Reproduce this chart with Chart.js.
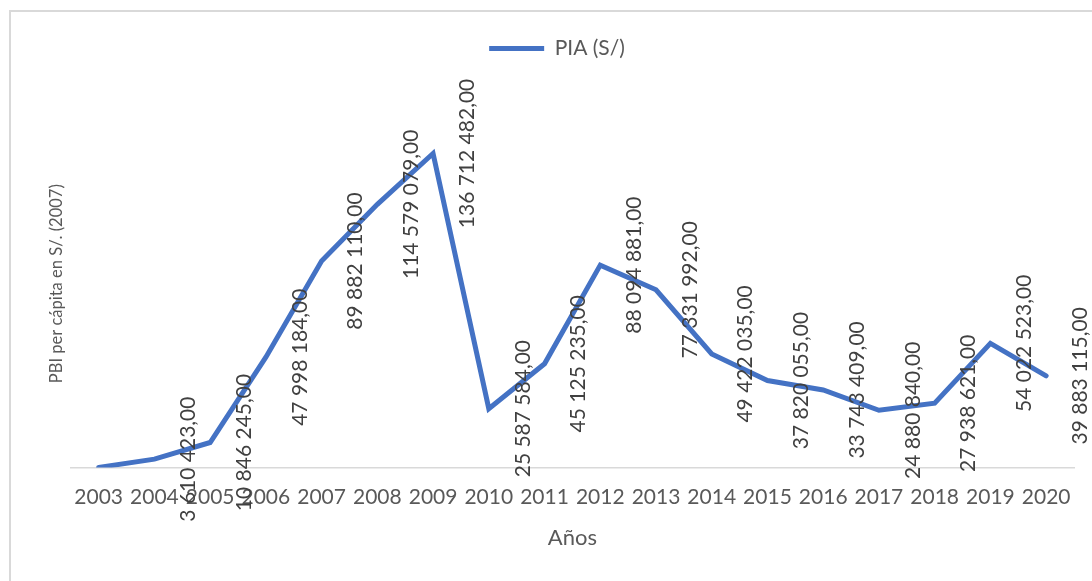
<!DOCTYPE html>
<html>
<head>
<meta charset="utf-8">
<script src="https://cdn.jsdelivr.net/npm/chart.js@4"></script>
<style>
  html, body { margin: 0; padding: 0; background: #fff; overflow: hidden; width: 1092px; height: 581px; }
  #frame { position: absolute; left: 9px; top: 10px; width: 1110px; height: 620px; border: 2px solid #d9d9d9; }
  #wrap { position: absolute; left: 10px; top: 10px; width: 1100px; height: 600px; }
</style>
</head>
<body>
<div id="frame"></div>
<div id="wrap"><canvas id="pibChart" width="1100" height="600"></canvas></div>
<script>
var years = ['2003', '2004', '2005', '2006', '2007', '2008', '2009', '2010', '2011',
             '2012', '2013', '2014', '2015', '2016', '2017', '2018', '2019', '2020'];

var piaValues = [0, 3610423, 10846245, 47998184, 89882110, 114579079, 136712482, 25587584, 45125235,
                 88094881, 77331992, 49422035, 37820055, 33743409, 24880840, 27938621, 54022523, 39883115];

var seriesName = 'PIA (S/)';
var xTitle = 'Años';
var yTitle = 'PBI per cápita en S/. (2007)';

function formatValue(v) {
    var s = Math.round(v).toString().replace(/\B(?=(\d{3})+(?!\d))/g, ' ');
    return s + ',00';
}

// vertical data labels to the right of each point
var valueLabels = {
    id: 'valueLabels',
    afterDatasetsDraw: function(chart) {
        var ctx = chart.ctx;
        var meta = chart.getDatasetMeta(0);
        ctx.save();
        ctx.font = '21px Lato';
        ctx.fillStyle = '#404040';
        ctx.textAlign = 'center';
        ctx.textBaseline = 'middle';
        meta.data.forEach(function(pt, i) {
            var v = chart.data.datasets[0].data[i];
            if (!v) return;
            ctx.save();
            ctx.translate(pt.x + 34, pt.y);
            ctx.rotate(-Math.PI / 2);
            ctx.fillText(formatValue(v), 0, 0);
            ctx.restore();
        });
        ctx.restore();
    }
};

// extra space under the legend
var legendMargin = {
    id: 'legendMargin',
    beforeInit: function(chart) {
        var origFit = chart.legend.fit;
        chart.legend.fit = function() {
            origFit.bind(chart.legend)();
            this.height += 31;
        };
    }
};

var ctx = document.getElementById('pibChart').getContext('2d');

var pibChart = new Chart(ctx, {
    type: 'line',
    data: {
        labels: years,
        datasets: [{
            label: seriesName,
            data: piaValues,
            borderColor: '#4472C4',
            backgroundColor: '#4472C4',
            borderWidth: 5,
            borderCapStyle: 'round',
            pointRadius: 0,
            tension: 0,
            fill: false
        }]
    },
    options: {
        responsive: false,
        animation: false,
        layout: {
            padding: { left: 30, right: 36, top: 0, bottom: 59 }
        },
        plugins: {
            legend: {
                display: true,
                position: 'top',
                labels: {
                    font: { family: 'Lato', size: 21 },
                    color: '#595959',
                    boxWidth: 55,
                    boxHeight: 5,
                    padding: 28,
                    generateLabels: function(chart) {
                        return [{
                            text: seriesName,
                            fillStyle: '#4472C4',
                            strokeStyle: '#4472C4',
                            lineWidth: 0,
                            fontColor: '#595959',
                            datasetIndex: 0
                        }];
                    }
                }
            },
            tooltip: { enabled: false }
        },
        scales: {
            x: {
                offset: true,
                grid: { display: false, drawTicks: false },
                border: { display: true, color: '#d9d9d9', width: 1.5 },
                ticks: {
                    color: '#595959',
                    font: { family: 'Lato', size: 21 },
                    padding: 17,
                    maxRotation: 0,
                    autoSkip: false
                },
                title: {
                    display: true,
                    text: xTitle,
                    color: '#595959',
                    font: { family: 'Lato', size: 22 },
                    padding: { top: -2, bottom: 0 }
                }
            },
            y: {
                min: 0,
                max: 160000000,
                grid: { display: false, drawTicks: false },
                border: { display: false },
                ticks: { display: false },
                title: {
                    display: true,
                    text: yTitle,
                    color: '#595959',
                    font: { family: 'Lato', size: 16.5 },
                    padding: { top: 7, bottom: 4 }
                }
            }
        }
    },
    plugins: [valueLabels, legendMargin]
});
</script>
</body>
</html>
